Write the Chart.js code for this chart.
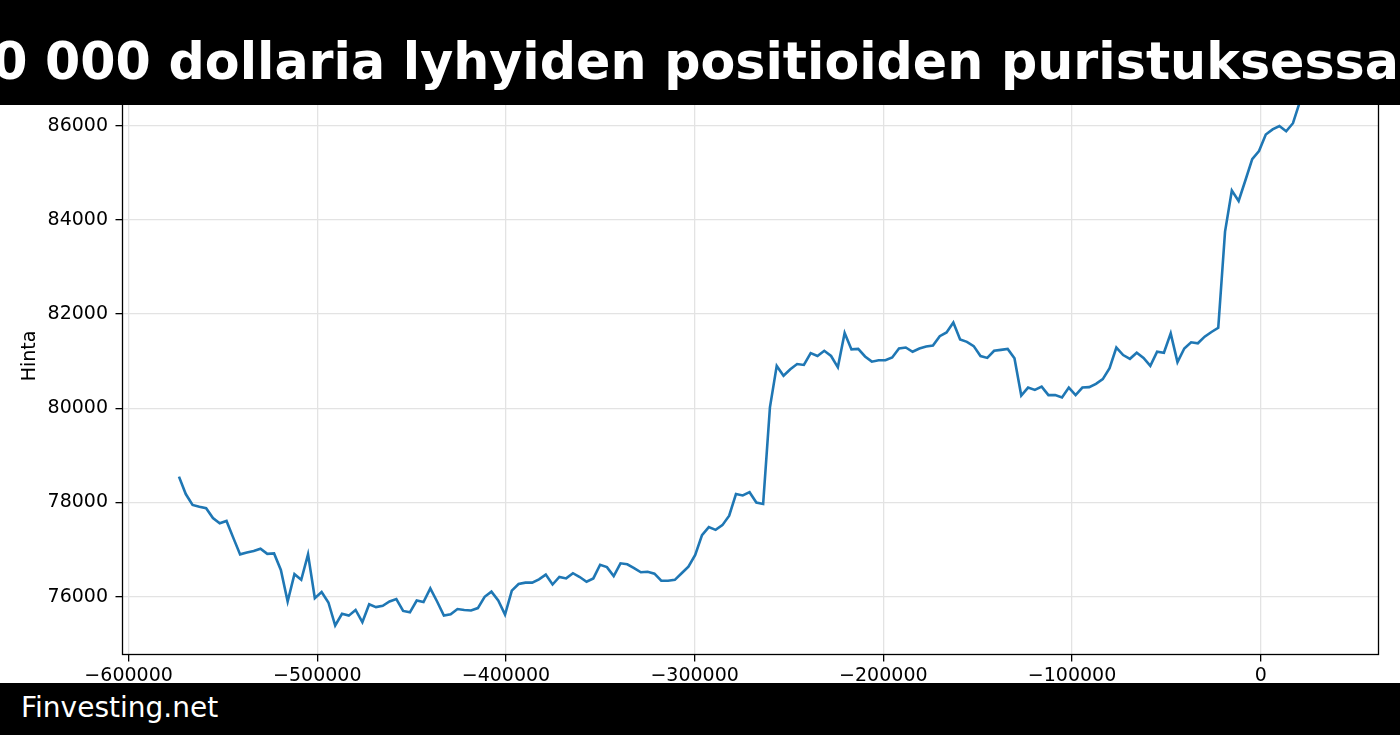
<!DOCTYPE html>
<html>
<head>
<meta charset="utf-8">
<script src="https://cdn.jsdelivr.net/npm/chart.js@4.4.1/dist/chart.umd.min.js"></script>
<style>
  html, body { margin: 0; padding: 0; background: #fff; }
  #wrap { position: relative; width: 1400px; height: 735px; overflow: hidden; }
  #chart { position: absolute; left: 0; top: 0; }
  #title { position: absolute; left: 0; top: 0; width: 1400px; height: 105px; background: #000; overflow: hidden; }
  #title span { position: absolute; right: 1px; top: 36.5px; font: bold 50.7px/50.7px "DejaVu Sans"; color: #fff; white-space: nowrap; }
  #footer { position: absolute; left: 0; top: 682.5px; width: 1400px; height: 52.5px; background: #000; }
  #footer span { position: absolute; left: 21px; top: 11.5px; font: 28px/28px "DejaVu Sans"; color: #fff; white-space: nowrap; }
</style>
</head>
<body>
<div id="wrap">
  <canvas id="chart" width="1400" height="735"></canvas>
  <div id="title"><span>0 000 dollaria lyhyiden positioiden puristuksessa</span></div>
  <div id="footer"><span>Finvesting.net</span></div>
</div>
<script>
// hourly samples, x in seconds relative to now
const startOffset = -573300;
const stepSeconds = 3600;

const prices = [
  78550, 78180, 77950, 77910, 77880, 77670, 77560, 77610, 77250, 76900,
  76940, 76970, 77020, 76910, 76920, 76570, 75900, 76480, 76360, 76900,
  75970, 76100, 75880, 75390, 75640, 75600, 75720, 75460, 75840, 75780,
  75810, 75900, 75950, 75700, 75670, 75920, 75890, 76180, 75900, 75600,
  75630, 75740, 75720, 75710, 75760, 76000, 76110, 75920, 75620, 76130,
  76270, 76300, 76300, 76370, 76470, 76260, 76420, 76390, 76500, 76420,
  76320, 76390, 76680, 76630, 76440, 76710, 76690, 76610, 76520, 76530,
  76490, 76340, 76340, 76360, 76500, 76640, 76890, 77310, 77480, 77420,
  77520, 77720, 78180, 78150, 78220, 78000, 77970, 80020, 80900, 80690,
  80830, 80940, 80920, 81170, 81110, 81220, 81110, 80870, 81600, 81250,
  81260, 81100, 80990, 81020, 81020, 81080, 81270, 81290, 81200, 81270,
  81310, 81330, 81530, 81610, 81820, 81460, 81410, 81320, 81110, 81070,
  81220, 81240, 81260, 81060, 80270, 80440, 80390, 80460, 80280, 80280,
  80230, 80440, 80280, 80440, 80450, 80520, 80620, 80850, 81290, 81130,
  81050, 81180, 81070, 80900, 81200, 81180, 81590, 80980, 81270, 81400,
  81380, 81520, 81620, 81710, 83750, 84620, 84400, 84840, 85290, 85460,
  85810, 85920, 85990, 85880, 86050, 86500, 86720, 86660, 86870
];

const xTicks = [-600000, -500000, -400000, -300000, -200000, -100000, 0];
const yTicks = [76000, 78000, 80000, 82000, 84000, 86000];

const X_MIN = -603230;
const X_MAX = 62430;
const Y_MIN = 74775;
const Y_MAX = 87445;

Chart.defaults.font.family = '"DejaVu Sans"';
Chart.defaults.font.size = 19;
Chart.defaults.color = '#000';

function minusFormat(value) {
  return value < 0 ? '\u2212' + Math.abs(value) : String(value);
}

const spines = {
  id: 'spines',
  afterDatasetsDraw(chart) {
    const { ctx, chartArea: a } = chart;
    ctx.save();
    ctx.strokeStyle = '#000';
    ctx.lineWidth = 1.3;
    ctx.strokeRect(a.left, a.top, a.right - a.left, a.bottom - a.top);
    ctx.restore();
  },
};

new Chart(document.getElementById('chart'), {
  type: 'line',
  data: {
    datasets: [{
      data: prices.map((p, i) => ({ x: startOffset + i * stepSeconds, y: p })),
      borderColor: '#1f77b4',
      borderWidth: 2.6,
      pointRadius: 0,
      tension: 0,
      fill: false,
    }],
  },
  options: {
    responsive: false,
    devicePixelRatio: 1,
    animation: false,
    layout: { padding: { top: 57.5, right: 21.5, left: 0, bottom: 0 } },
    plugins: { legend: { display: false }, tooltip: { enabled: false } },
    scales: {
      x: {
        type: 'linear',
        min: X_MIN,
        max: X_MAX,
        afterBuildTicks: (axis) => { axis.ticks = xTicks.map((v) => ({ value: v })); },
        afterFit: (scale) => { scale.height = 80.5; },
        ticks: { callback: minusFormat, maxRotation: 0, autoSkip: false, padding: 3, color: '#000' },
        grid: { color: '#e3e3e3', lineWidth: 1.3, tickColor: '#000', tickLength: 7, tickWidth: 1.3 },
        border: { display: false },
      },
      y: {
        min: Y_MIN,
        max: Y_MAX,
        afterBuildTicks: (axis) => { axis.ticks = yTicks.map((v) => ({ value: v })); },
        afterFit: (scale) => { scale.width = 122.5; },
        ticks: { callback: minusFormat, padding: 7.5, color: '#000' },
        grid: { color: '#e3e3e3', lineWidth: 1.3, tickColor: '#000', tickLength: 7, tickWidth: 1.3 },
        border: { display: false },
        title: { display: true, text: 'Hinta', color: '#000', font: { size: 19 }, padding: { top: 19, bottom: 0 } },
      },
    },
  },
  plugins: [spines],
});
</script>
</body>
</html>
